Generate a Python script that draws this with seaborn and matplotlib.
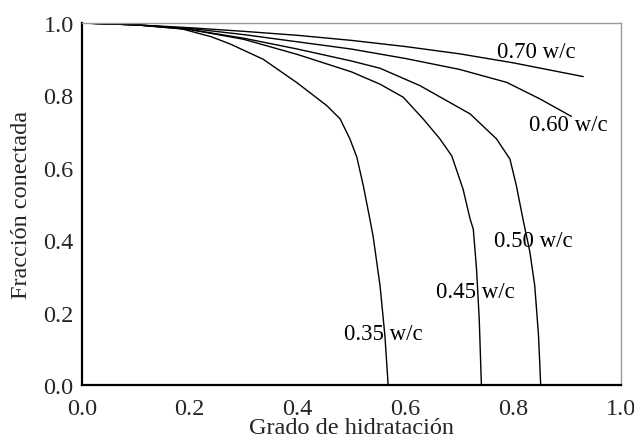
import matplotlib
matplotlib.use("Agg")
import matplotlib.pyplot as plt
import seaborn as sns
import pandas as pd

# Data
wc_labels = ["0.70 w/c", "0.60 w/c", "0.50 w/c", "0.45 w/c", "0.35 w/c"]

x_070 = [0, 0.1, 0.2, 0.3, 0.4, 0.5, 0.6, 0.7, 0.8, 0.93]
y_070 = [1, 0.995, 0.987, 0.977, 0.966, 0.952, 0.935, 0.915, 0.89, 0.852]

x_060 = [0, 0.1, 0.2, 0.3, 0.4, 0.5, 0.6, 0.7, 0.788, 0.85, 0.908]
y_060 = [1, 0.995, 0.985, 0.968, 0.948, 0.928, 0.902, 0.872, 0.836, 0.79, 0.742]

x_050 = [0, 0.1, 0.2, 0.3, 0.4, 0.5, 0.553, 0.627, 0.72, 0.769, 0.794, 0.806, 0.818, 0.831, 0.840, 0.847, 0.851]
y_050 = [1, 0.995, 0.982, 0.958, 0.928, 0.895, 0.875, 0.827, 0.749, 0.68, 0.624, 0.55, 0.459, 0.367, 0.274, 0.136, 0]

x_045 = [0, 0.1, 0.2, 0.3, 0.4, 0.5, 0.553, 0.596, 0.633, 0.664, 0.686, 0.707, 0.72, 0.726, 0.732, 0.737, 0.741]
y_045 = [1, 0.995, 0.982, 0.955, 0.913, 0.865, 0.831, 0.795, 0.735, 0.68, 0.633, 0.541, 0.459, 0.43, 0.32, 0.182, 0]

x_035 = [0, 0.1, 0.18, 0.24, 0.275, 0.336, 0.398, 0.454, 0.479, 0.497, 0.51, 0.522, 0.534, 0.54, 0.553, 0.562, 0.568]
y_035 = [1, 0.995, 0.986, 0.962, 0.942, 0.90, 0.836, 0.772, 0.735, 0.68, 0.629, 0.55, 0.459, 0.412, 0.274, 0.136, 0]

label_x = [0.842, 0.902, 0.837, 0.729, 0.559]
label_y = [0.92, 0.721, 0.40, 0.257, 0.141]

x_ticks = [0.0, 0.2, 0.4, 0.6, 0.8, 1.0]
y_ticks = [0.0, 0.2, 0.4, 0.6, 0.8, 1.0]

xs = [x_070, x_060, x_050, x_045, x_035]
ys = [y_070, y_060, y_050, y_045, y_035]

frames = []
for lab, xv, yv in zip(wc_labels, xs, ys):
    frames.append(pd.DataFrame({"x": xv, "y": yv, "wc": lab}))
df = pd.concat(frames, ignore_index=True)

sns.set_style("white")
plt.rcParams["font.family"] = ["Liberation Serif", "DejaVu Serif"]

fig = plt.figure(figsize=(6.34, 4.39), dpi=100)
ax = fig.add_axes([0.1293, 0.1207, 0.9795 - 0.1293, 0.9453 - 0.1207])

sns.lineplot(data=df, x="x", y="y", hue="wc", units="wc", estimator=None, sort=False,
             palette=["black"] * 5, linewidth=1.0, legend=False, ax=ax)

for lab, lx, ly in zip(wc_labels, label_x, label_y):
    ax.text(lx, ly, lab, ha="center", va="center", fontsize=16.5, color="black")

ax.set_xlim(0, 1)
ax.set_ylim(0, 1)
ax.set_xticks(x_ticks)
ax.set_yticks(y_ticks)
ax.set_xticklabels([f"{v:.1f}" for v in x_ticks])
ax.set_yticklabels([f"{v:.1f}" for v in y_ticks])
ax.tick_params(axis="x", direction="in", length=7, width=1, color="#aaaaaa", labelsize=17.5, pad=9)
ax.tick_params(axis="y", direction="in", length=9, width=1, color="#888888", labelsize=17.5, pad=6)

ax.set_xlabel("Grado de hidratación", fontsize=17.5, labelpad=-1)
ax.set_ylabel("Fracción conectada", fontsize=17.5, labelpad=8)

for s in ["left", "bottom"]:
    ax.spines[s].set_color("black")
    ax.spines[s].set_linewidth(1.6)
for s in ["top", "right"]:
    ax.spines[s].set_color("#999999")
    ax.spines[s].set_linewidth(1.0)

fig.savefig("out.png", dpi=100)
